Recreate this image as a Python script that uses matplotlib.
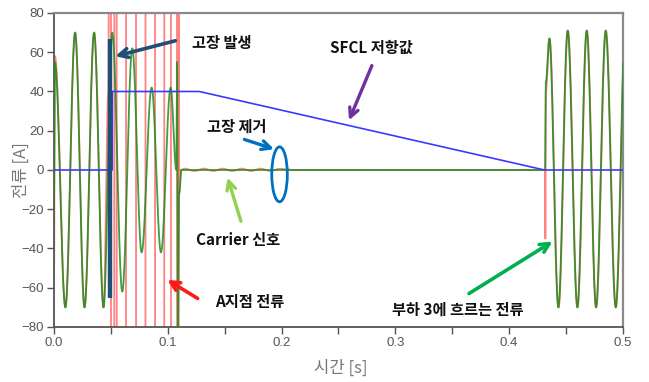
import numpy as np
import matplotlib
matplotlib.use("Agg")
import matplotlib.pyplot as plt
from matplotlib.patches import Ellipse

plt.rcParams['font.family'] = ['Noto Sans CJK KR', 'DejaVu Sans']

# ---------------- data ----------------
# load-3 current (green): extrema times [s] and values [A]
green_t = [0.0000, 0.0008, 0.0100, 0.0185, 0.0268, 0.0352, 0.0435, 0.0512, 0.0600,
           0.0688, 0.0770, 0.0858, 0.0940, 0.1025, 0.1075, 0.1082, 0.1090, 0.1100,
           0.1120, 0.4315, 0.4322, 0.4353, 0.4432, 0.4514, 0.4599, 0.4681, 0.4763,
           0.4848, 0.4936, 0.5021]
green_v = [-13, 55, -70, 70, -70, 70, -70, 70, -62,
           62, -42, 42, -42, 42, 0, 55, -95, -12,
           0, 0, 45, 67, -70, 71, -70, 71, -70,
           71, -70, 71]

# point-A current (red): pre-fault extrema
red_pre_t = [0.0000, 0.0008, 0.0101, 0.0186, 0.0269, 0.0353, 0.0436, 0.0478, 0.0490]
red_pre_v = [-56, 58, -70, 70, -70, 70, -70, 40, 300]
# times where the large fault current sweeps through the plotted range
red_cross_t = [0.0501, 0.0530, 0.0551, 0.0633, 0.0721, 0.0804, 0.0888, 0.0969,
               0.1028, 0.1082, 0.1088, 0.1094]
red_fault_peak = 300
# after clearing: carrier ripple, then reclosing
red_post_t = [0.1100, 0.1112, 0.1150, 0.1233, 0.1317, 0.1400, 0.1483, 0.1567, 0.1650,
              0.1733, 0.1817, 0.1900, 0.1983, 0.2100, 0.4315, 0.4318, 0.4322, 0.4355,
              0.4434, 0.4516, 0.4601, 0.4683, 0.4765, 0.4850, 0.4938, 0.5023]
red_post_v = [-12, 0, 0.7, -0.5, 0.7, -0.5, 0.7, -0.5, 0.7,
              -0.5, 0.7, -0.5, 0.6, 0, 0, -35, 40, 67,
              -70, 71, -70, 71, -70, 71, -70, 71]

# SFCL resistance (blue)
sfcl_t = [0.0, 0.0512, 0.0512, 0.1277, 0.4310, 0.5]
sfcl_v = [0, 0, 40, 40, 0, 0]

# fault instant marker
fault_t = 0.0489
fault_lo, fault_hi = -65, 67

x_ticks = [0.0, 0.1, 0.2, 0.3, 0.4, 0.5]
x_ticklabels = ['0.0', '0.1', '0.2', '0.3', '0.4', '0.5']
x_minor = [0.05, 0.15, 0.25, 0.35, 0.45]
y_ticks = [-80, -60, -40, -20, 0, 20, 40, 60, 80]


def wave(ts, vs, n=40):
    """half-cosine segments between consecutive extrema"""
    tt, vv = [], []
    for i in range(len(ts) - 1):
        s = np.linspace(0, 1, n, endpoint=False)
        tt.append(ts[i] + (ts[i + 1] - ts[i]) * s)
        vv.append(vs[i] + (vs[i + 1] - vs[i]) * (1 - np.cos(np.pi * s)) / 2)
    tt.append([ts[-1]])
    vv.append([vs[-1]])
    return np.concatenate(tt), np.concatenate(vv)


# assemble red node list
red_t = list(red_pre_t)
red_v = list(red_pre_v)
sign = 1
for c in red_cross_t:
    red_t += [c - 0.0001, c + 0.0001]
    red_v += [sign * red_fault_peak, -sign * red_fault_peak]
    sign = -sign
red_t += red_post_t
red_v += red_post_v

gt, gv = wave(green_t, green_v)
rt, rv = wave(red_t, red_v)
st, sv = np.array(sfcl_t), np.array(sfcl_v)

# ---------------- figure ----------------
fig = plt.figure(figsize=(6.49, 3.82), dpi=100)
ax = fig.add_axes([0.0832, 0.144, 0.8767, 0.822])

ax.plot(rt, rv, color='#ff1a1a', lw=1.3, alpha=0.55, zorder=2)
ax.plot(gt, gv, color='#1e8c1e', lw=1.3, alpha=0.85, zorder=3)
ax.plot(st, sv, color='#3a3aff', lw=1.2, zorder=4)
ax.plot([fault_t, fault_t], [fault_lo, fault_hi], color='#1f4e79', lw=3.2,
        solid_capstyle='butt', zorder=5)

ax.set_xlim(0, 0.5)
ax.set_ylim(-80, 80)
ax.set_xticks(x_ticks)
ax.set_xticklabels(x_ticklabels)
ax.set_xticks(x_minor, minor=True)
ax.set_yticks(y_ticks)
ax.tick_params(axis='both', which='both', direction='out', length=5, width=1,
               color='#555555', labelcolor='#555555', labelsize=9.5, pad=2)
for lab in ax.get_xticklabels() + ax.get_yticklabels():
    lab.set_family(['Liberation Sans', 'DejaVu Sans'])

for side in ['left', 'bottom']:
    ax.spines[side].set_color('#555555')
    ax.spines[side].set_linewidth(1.3)
for side in ['top', 'right']:
    ax.spines[side].set_color('#8a8a8a')
    ax.spines[side].set_linewidth(1.6)

ax.set_ylabel('전류 [A]', color='#777777', fontsize=12)
ax.yaxis.set_label_coords(-0.043, 0.5)
ax.set_xlabel('시간 [s]', color='#777777', fontsize=12)
ax.xaxis.set_label_coords(0.504, -0.105)

tk = dict(fontsize=11, fontweight='bold', color='#111111', va='center', ha='left')

# 고장 발생
ax.annotate('', xy=(0.0515, 57.6), xytext=(0.109, 66.2),
            arrowprops=dict(arrowstyle='->', lw=2.6, color='#1f4e79', mutation_scale=16),
            zorder=6)
ax.text(0.1213, 64.7, '고장 발생', **tk)

# SFCL 저항값
ax.annotate('', xy=(0.2583, 24), xytext=(0.2803, 54.5),
            arrowprops=dict(arrowstyle='->', lw=2.4, color='#7030a0', mutation_scale=16),
            zorder=6)
ax.text(0.2425, 62.2, 'SFCL 저항값', **tk)

# 고장 제거
ax.add_patch(Ellipse((0.1982, -2.2), width=0.0137, height=28, fill=False,
                     edgecolor='#0070c0', lw=2.0, zorder=6))
ax.annotate('', xy=(0.1957, 10.2), xytext=(0.1650, 16.0),
            arrowprops=dict(arrowstyle='->', lw=2.4, color='#0070c0', mutation_scale=16),
            zorder=6)
ax.text(0.1344, 21.9, '고장 제거', **tk)

# Carrier 신호
ax.annotate('', xy=(0.1518, -2.5), xytext=(0.1650, -27.5),
            arrowprops=dict(arrowstyle='->', lw=2.4, color='#92d050', mutation_scale=16),
            zorder=6)
ax.text(0.1248, -35.7, 'Carrier 신호', **tk)

# A지점 전류
ax.annotate('', xy=(0.0975, -55.2), xytext=(0.1283, -66.2),
            arrowprops=dict(arrowstyle='->', lw=2.6, color='#ff1a1a', mutation_scale=16),
            zorder=6)
ax.text(0.1415, -67.3, 'A지점 전류', **tk)

# 부하 3에 흐르는 전류
ax.annotate('', xy=(0.4402, -35.7), xytext=(0.3626, -63.7),
            arrowprops=dict(arrowstyle='->', lw=2.6, color='#00b050', mutation_scale=16),
            zorder=6)
ax.text(0.2968, -71.3, '부하 3에 흐르는 전류', **tk)

fig.savefig('out.png', dpi=100)
